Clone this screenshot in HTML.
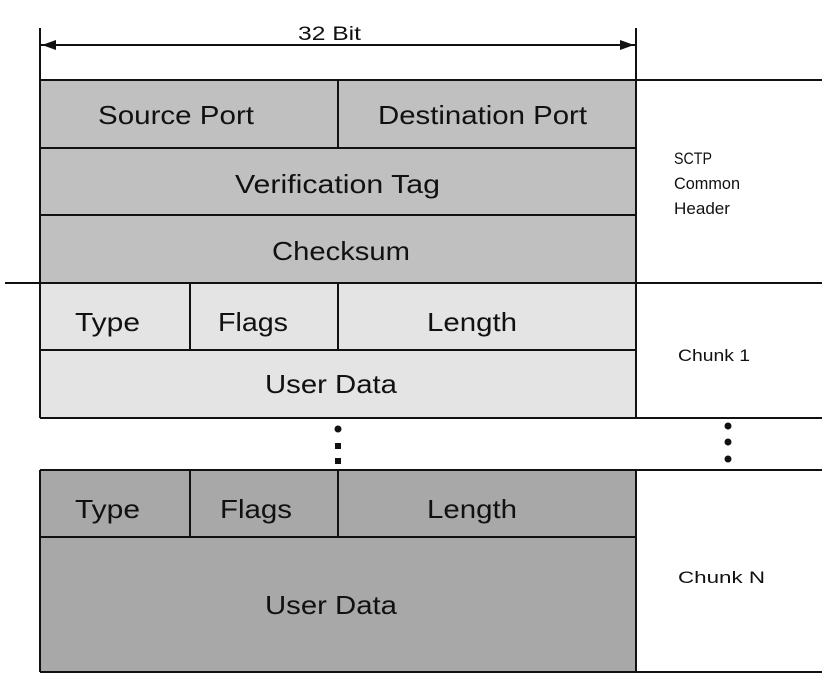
<!DOCTYPE html>
<html><head><meta charset="utf-8"><style>
html,body{margin:0;padding:0;background:#fff;}
svg{display:block;}
text{font-family:"Liberation Sans",sans-serif;fill:#111;}
</style></head><body>
<svg width="838" height="680" viewBox="0 0 838 680" xmlns="http://www.w3.org/2000/svg">
<rect x="40" y="80" width="596" height="203" fill="#c0c0c0"/>
<rect x="40" y="283" width="596" height="135" fill="#e4e4e4"/>
<rect x="40" y="470" width="596" height="202" fill="#a8a8a8"/>
<g stroke="#111" stroke-width="2" fill="none">
<line x1="40" y1="28" x2="40" y2="80"/>
<line x1="636" y1="28" x2="636" y2="80"/>
<line x1="40" y1="45" x2="636" y2="45"/>
<line x1="40" y1="80" x2="822" y2="80"/>
<line x1="40" y1="148" x2="636" y2="148"/>
<line x1="40" y1="215" x2="636" y2="215"/>
<line x1="5" y1="283" x2="822" y2="283"/>
<line x1="40" y1="80" x2="40" y2="418"/>
<line x1="636" y1="80" x2="636" y2="418"/>
<line x1="338" y1="80" x2="338" y2="148"/>
<line x1="190" y1="283" x2="190" y2="350"/>
<line x1="338" y1="283" x2="338" y2="350"/>
<line x1="40" y1="350" x2="636" y2="350"/>
<line x1="40" y1="418" x2="822" y2="418"/>
<line x1="40" y1="470" x2="822" y2="470"/>
<line x1="40" y1="470" x2="40" y2="672"/>
<line x1="636" y1="470" x2="636" y2="672"/>
<line x1="190" y1="470" x2="190" y2="537"/>
<line x1="338" y1="470" x2="338" y2="537"/>
<line x1="40" y1="537" x2="636" y2="537"/>
<line x1="40" y1="672" x2="822" y2="672"/>
</g>
<polygon points="42,45 56,40 56,50" fill="#111"/>
<polygon points="634,45 620,40 620,50" fill="#111"/>
<g fill="#111">
<circle cx="338" cy="429" r="3.5"/>
<rect x="335" y="443" width="6" height="6"/>
<rect x="335" y="458" width="6" height="6"/>
<circle cx="728" cy="426" r="3.5"/>
<circle cx="728" cy="442" r="3.5"/>
<circle cx="728" cy="459" r="3.5"/>
</g>
<text x="298" y="40" font-size="19" textLength="63" lengthAdjust="spacingAndGlyphs">32 Bit</text>
<g font-size="26">
<text x="98" y="124" textLength="156" lengthAdjust="spacingAndGlyphs">Source Port</text>
<text x="378" y="124" textLength="209" lengthAdjust="spacingAndGlyphs">Destination Port</text>
<text x="235" y="193" textLength="205" lengthAdjust="spacingAndGlyphs">Verification Tag</text>
<text x="272" y="260" textLength="138" lengthAdjust="spacingAndGlyphs">Checksum</text>
<text x="75" y="331" textLength="65" lengthAdjust="spacingAndGlyphs">Type</text>
<text x="218" y="331" textLength="70" lengthAdjust="spacingAndGlyphs">Flags</text>
<text x="427" y="331" textLength="90" lengthAdjust="spacingAndGlyphs">Length</text>
<text x="265" y="393" textLength="132" lengthAdjust="spacingAndGlyphs">User Data</text>
<text x="75" y="518" textLength="65" lengthAdjust="spacingAndGlyphs">Type</text>
<text x="220" y="518" textLength="72" lengthAdjust="spacingAndGlyphs">Flags</text>
<text x="427" y="518" textLength="90" lengthAdjust="spacingAndGlyphs">Length</text>
<text x="265" y="614" textLength="132" lengthAdjust="spacingAndGlyphs">User Data</text>
</g>
<g font-size="17">
<text x="674" y="164" textLength="38" lengthAdjust="spacingAndGlyphs">SCTP</text>
<text x="674" y="189" textLength="66" lengthAdjust="spacingAndGlyphs">Common</text>
<text x="674" y="214" textLength="56" lengthAdjust="spacingAndGlyphs">Header</text>
<text x="678" y="361" textLength="72" lengthAdjust="spacingAndGlyphs">Chunk 1</text>
<text x="678" y="583" textLength="87" lengthAdjust="spacingAndGlyphs">Chunk N</text>
</g>
</svg>
</body></html>
